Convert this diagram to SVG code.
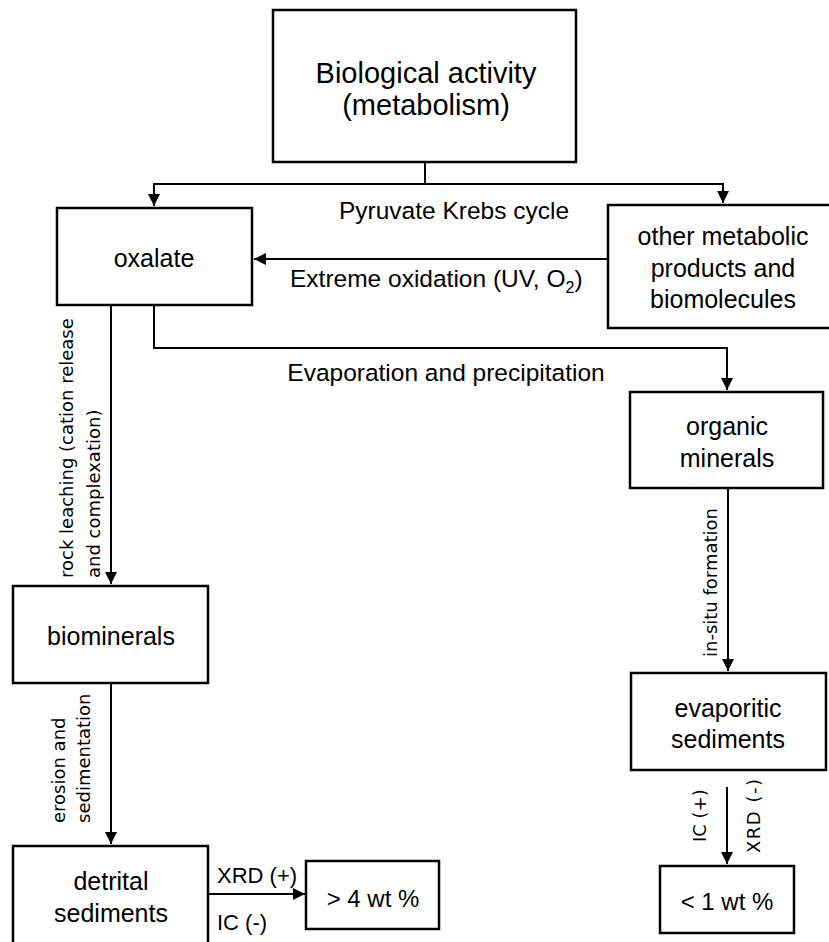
<svg xmlns="http://www.w3.org/2000/svg" width="829" height="942" viewBox="0 0 829 942">
<style>
.box{fill:#fff;stroke:#000;stroke-width:2.5}
.con{fill:none;stroke:#000;stroke-width:2}
.t{font-family:"Liberation Sans",Arial,sans-serif;fill:#000;text-anchor:middle}
.n{font-size:25px}
.big{font-size:29px}
.e{font-size:24.5px}
.s{font-size:22px;text-anchor:start}
.r{font-family:"DejaVu Sans",Verdana,sans-serif;font-size:18px;fill:#000}
</style>
<defs>
<marker id="ah" markerUnits="userSpaceOnUse" markerWidth="13" markerHeight="13" refX="12" refY="6" orient="auto">
<path d="M0,0 L12,6 L0,12 z" fill="#000"/>
</marker>
</defs>
<rect width="829" height="942" fill="#fff"/>
<g id="connectors">
<path class="con" d="M425,162 V184 H154 V206" marker-end="url(#ah)"/>
<path class="con" d="M425,184 H723 V203" marker-end="url(#ah)"/>
<path class="con" d="M608,259 H254" marker-end="url(#ah)"/>
<path class="con" d="M111,305 V584" marker-end="url(#ah)"/>
<path class="con" d="M154,305 V348 H727 V390" marker-end="url(#ah)"/>
<path class="con" d="M728,488 V671" marker-end="url(#ah)"/>
<path class="con" d="M111,683 V844" marker-end="url(#ah)"/>
<path class="con" d="M207,894 H305" marker-end="url(#ah)"/>
<path class="con" d="M727,787 V864" marker-end="url(#ah)"/>
<text class="t e" x="454" y="219">Pyruvate Krebs cycle</text>
<text class="t e" x="290" y="287" style="text-anchor:start">Extreme oxidation (UV, O<tspan font-size="16" dy="6">2</tspan><tspan dy="-6">)</tspan></text>
<text class="t e" x="446" y="381">Evaporation and precipitation</text>
<text class="r" transform="translate(73,578) rotate(-90)">rock leaching (cation release</text>
<text class="r" transform="translate(100,578) rotate(-90)">and complexation)</text>
<text class="r" transform="translate(65,823) rotate(-90)">erosion and</text>
<text class="r" transform="translate(90,823) rotate(-90)">sedimentation</text>
<text class="r" transform="translate(717,657) rotate(-90)">in-situ formation</text>
<text class="r" transform="translate(706,842) rotate(-90)">IC (+)</text>
<text class="r" transform="translate(760,853) rotate(-90)" textLength="74">XRD (-)</text>
<text class="t s" x="217" y="883">XRD (+)</text>
<text class="t s" x="217" y="930">IC (-)</text>
</g>
<g id="biological-activity">
<rect class="box" x="273" y="10" width="303" height="152"/>
<text class="t big" x="426" y="83">Biological activity</text>
<text class="t big" x="426" y="115">(metabolism)</text>
</g>
<g id="oxalate">
<rect class="box" x="57" y="208" width="195" height="97"/>
<text class="t n" x="154" y="267">oxalate</text>
</g>
<g id="other-metabolic">
<rect class="box" x="608" y="205" width="230" height="123"/>
<text class="t n" x="723" y="245">other metabolic</text>
<text class="t n" x="723" y="277">products and</text>
<text class="t n" x="723" y="308">biomolecules</text>
</g>
<g id="organic-minerals">
<rect class="box" x="630" y="392" width="193" height="96"/>
<text class="t n" x="727" y="435">organic</text>
<text class="t n" x="727" y="467">minerals</text>
</g>
<g id="biominerals">
<rect class="box" x="13" y="586" width="195" height="97"/>
<text class="t n" x="111" y="645">biominerals</text>
</g>
<g id="evaporitic-sediments">
<rect class="box" x="631" y="673" width="195" height="97"/>
<text class="t n" x="728" y="717">evaporitic</text>
<text class="t n" x="728" y="748">sediments</text>
</g>
<g id="detrital-sediments">
<rect class="box" x="13" y="846" width="195" height="110"/>
<text class="t n" x="111" y="890">detrital</text>
<text class="t n" x="111" y="922">sediments</text>
</g>
<g id="gt4">
<rect class="box" x="306" y="861" width="133" height="68"/>
<text class="t" x="373" y="907" font-size="24">&gt; 4 wt %</text>
</g>
<g id="lt1">
<rect class="box" x="660" y="866" width="134" height="67"/>
<text class="t" x="727" y="910" font-size="24">&lt; 1 wt %</text>
</g>
</svg>
